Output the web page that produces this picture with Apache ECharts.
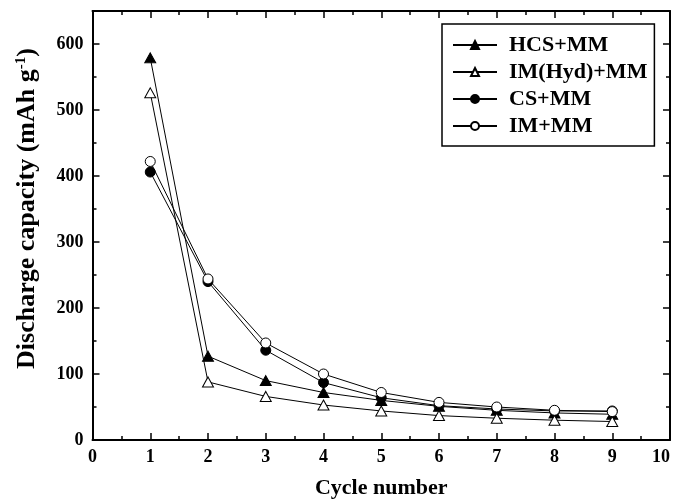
<!DOCTYPE html>
<html>
<head>
<meta charset="utf-8">
<script src="https://cdn.jsdelivr.net/npm/echarts@6/dist/echarts.min.js"></script>
<style>html,body{margin:0;padding:0;background:#fff}#c{width:679px;height:500px}</style>
</head>
<body>
<div id="c"></div>
<script>
const cycles = [1, 2, 3, 4, 5, 6, 7, 8, 9];
const seriesNames = ['HCS+MM', 'IM(Hyd)+MM', 'CS+MM', 'IM+MM'];
const hcsMM = [579, 127, 90, 72, 60, 51, 45, 41, 39];
const imHydMM = [526, 88, 66, 53, 44, 37, 33, 30, 28];
const csMM = [406, 240, 136, 87, 64, 52, 47, 44, 44];
const imMM = [422, 244, 147, 100, 72, 57, 50, 45, 43];
const xTicks = [0, 1, 2, 3, 4, 5, 6, 7, 8, 9, 10];
const yTicks = [0, 100, 200, 300, 400, 500, 600];

const font = 'Liberation Serif';
const pair = (arr) => cycles.map((c, i) => [c, arr[i]]);

function mkSeries(name, data, symbol, filled, size) {
  return {
    name: name, type: 'line', data: pair(data),
    symbol: symbol, symbolSize: size,
    lineStyle: { color: '#000', width: 1 },
    itemStyle: { color: filled ? '#000' : '#fff', borderColor: '#000', borderWidth: 1 },
    z: filled ? 3 : 4,
    animation: false
  };
}

const axisCommon = {
  axisLine: { show: true, onZero: false, lineStyle: { color: '#000', width: 2 } },
  axisTick: { show: true, inside: true, length: 7, lineStyle: { color: '#000', width: 1.5 } },
  minorTick: { show: true, splitNumber: 2, length: 4, lineStyle: { color: '#000', width: 1.5 } },
  splitLine: { show: false }
};

const chart = echarts.init(document.getElementById('c'));
chart.setOption({
  backgroundColor: '#fff',
  animation: false,
  grid: { left: 92.5, right: 9, top: 11, bottom: 60, containLabel: false, outerBoundsMode: 'none' },
  legend: {
    data: seriesNames,
    orient: 'vertical',
    left: 442, top: 24,
    padding: [10, 7, 9, 10],
    borderColor: '#000', borderWidth: 1.5,
    itemWidth: 44, itemHeight: 10, itemGap: 5,
    textStyle: { fontFamily: font, fontWeight: 'bold', fontSize: 22, color: '#000', padding: [0, 0, 0, 7] }
  },
  xAxis: [
    Object.assign({
      type: 'value', min: 0, max: 10, interval: 1,
      position: 'bottom',
      name: 'Cycle number', nameLocation: 'middle', nameGap: 37,
      nameTextStyle: { fontFamily: font, fontWeight: 'bold', fontSize: 22, color: '#000' },
      axisLabel: { margin: 8, fontFamily: font, fontWeight: 'bold', fontSize: 18, color: '#000',
        alignMaxLabel: 'right',
        formatter: (v) => xTicks.includes(v) ? String(v) : '' }
    }, axisCommon),
    Object.assign({
      type: 'value', min: 0, max: 10, interval: 1, position: 'top',
      axisLabel: { show: false }
    }, axisCommon)
  ],
  yAxis: [
    Object.assign({
      type: 'value', min: 0, max: 650, interval: 100,
      position: 'left',
      name: '{a|Discharge capacity (mAh g}{s|-1}{a|)}', nameLocation: 'middle', nameGap: 52,
      nameTextStyle: { padding: [0, 0, 0, 34], rich: {
        a: { fontFamily: font, fontWeight: 'bold', fontSize: 26, color: '#000' },
        s: { fontFamily: font, fontWeight: 'bold', fontSize: 15, color: '#000', verticalAlign: 'top', padding: [0, 0, 12, 0] }
      } },
      axisLabel: { margin: 9, fontFamily: font, fontWeight: 'bold', fontSize: 18, color: '#000',
        formatter: (v) => yTicks.includes(v) ? String(v) : '' }
    }, axisCommon),
    Object.assign({
      type: 'value', min: 0, max: 650, interval: 100, position: 'right',
      axisLabel: { show: false }
    }, axisCommon)
  ],
  series: [
    mkSeries(seriesNames[0], hcsMM, 'triangle', true, [11, 10]),
    mkSeries(seriesNames[1], imHydMM, 'triangle', false, [11, 10]),
    mkSeries(seriesNames[2], csMM, 'circle', true, 10),
    mkSeries(seriesNames[3], imMM, 'circle', false, 10)
  ]
});
</script>
</body>
</html>
